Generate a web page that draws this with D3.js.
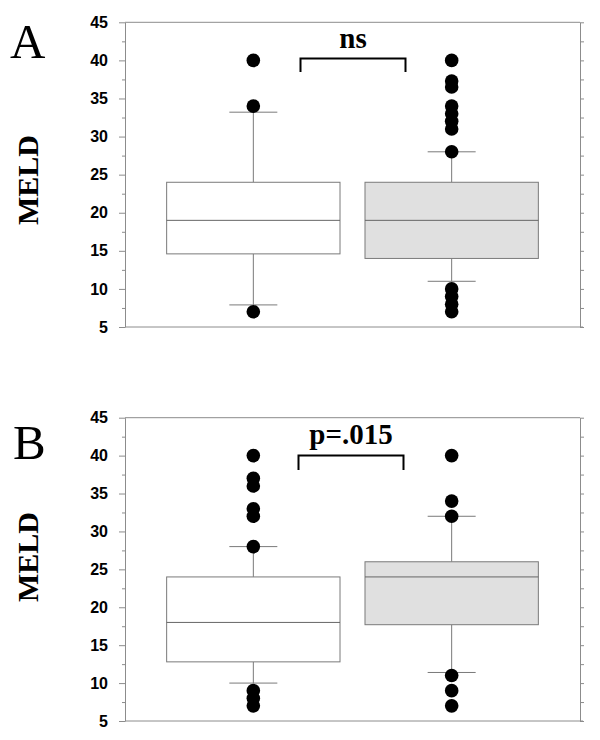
<!DOCTYPE html>
<html>
<head>
<meta charset="utf-8">
<script src="https://cdn.jsdelivr.net/npm/d3@7"></script>
<style>
  html, body { margin: 0; padding: 0; background: #fff; }
  svg { display: block; }
</style>
</head>
<body>
<div id="chart"></div>
<script>
// ---------- data ----------
const groups = ["Group 1", "Group 2"];
const yTicks = [5, 10, 15, 20, 25, 30, 35, 40, 45];
const panelLabels = ["A", "B"];
const yLabel = "MELD";
const sigLabels = ["ns", "p=.015"];

// Panel A
const aQ1 = [14.6, 14];
const aMedian = [19, 19];
const aQ3 = [24, 24];
const aWhiskerLow = [7.9, 11];
const aWhiskerHigh = [33.2, 28];
const aOutliers = [
  [40, 34, 7],
  [40, 37.3, 36.5, 34, 33, 32, 31, 28, 10, 9, 8, 7]
];

// Panel B
const bQ1 = [12.8, 17.7];
const bMedian = [18, 24];
const bQ3 = [24, 26];
const bWhiskerLow = [10, 11.4];
const bWhiskerHigh = [28, 32];
const bOutliers = [
  [40, 37, 36, 33, 32, 28, 9, 8, 7],
  [40, 34, 32, 11, 9, 7]
];

const boxFills = ["#ffffff", "#e0e0e0"];

// ---------- layout ----------
const W = 600, H = 740;
const svg = d3.select("#chart").append("svg").attr("width", W).attr("height", H);

const x = d3.scaleBand().domain(groups).range([125, 580])
  .paddingInner(0.126).paddingOuter(0.21);

const panels = [
  { top: 22.3, bottom: 327, label: panelLabels[0], sig: sigLabels[0],
    q1: aQ1, med: aMedian, q3: aQ3, lo: aWhiskerLow, hi: aWhiskerHigh, out: aOutliers,
    letterX: 10, letterY: 58, meldY: 180, bracket: { x0: 300.5, x1: 405.5, y: 58.5, yb: 72, ty: 48 } },
  { top: 417.7, bottom: 721, label: panelLabels[1], sig: sigLabels[1],
    q1: bQ1, med: bMedian, q3: bQ3, lo: bWhiskerLow, hi: bWhiskerHigh, out: bOutliers,
    letterX: 13, letterY: 459, meldY: 557, bracket: { x0: 298.5, x1: 403.5, y: 455.5, yb: 470, ty: 444 } }
];

const axisGray = "#8c8c8c";
const boxGray = "#7a7a7a";

panels.forEach((p) => {
  const y = d3.scaleLinear().domain([5, 45]).range([p.bottom, p.top]);
  const g = svg.append("g");

  // minor ticks (left)
  const minor = d3.range(7.5, 45, 5);
  const leftMinor = g.append("g").attr("transform", "translate(125,0)")
    .call(d3.axisLeft(y).tickValues(minor).tickSize(3).tickFormat(""));
  leftMinor.select(".domain").remove();
  leftMinor.selectAll("line").attr("stroke", axisGray);

  // left axis
  const left = g.append("g").attr("transform", "translate(125,0)")
    .call(d3.axisLeft(y).tickValues(yTicks).tickSize(6).tickPadding(11).tickSizeOuter(0));
  left.select(".domain").attr("stroke", axisGray);
  left.selectAll("line").attr("stroke", axisGray);
  left.selectAll("text")
    .attr("font-family", "'Liberation Sans', Arial, sans-serif")
    .attr("font-weight", "bold")
    .attr("font-size", 16)
    .attr("fill", "#000");

  // right axis
  const right = g.append("g").attr("transform", "translate(580,0)")
    .call(d3.axisRight(y).tickValues(d3.range(5, 45.1, 2.5)).tickSize(4).tickFormat("").tickSizeOuter(0));
  right.select(".domain").attr("stroke", axisGray);
  right.selectAll("line").attr("stroke", axisGray);

  // top and bottom lines
  g.append("line").attr("x1", 125).attr("x2", 580).attr("y1", y(45)).attr("y2", y(45))
    .attr("stroke", axisGray);
  g.append("line").attr("x1", 125).attr("x2", 583).attr("y1", y(5)).attr("y2", y(5))
    .attr("stroke", axisGray);

  // boxes
  groups.forEach((grp, i) => {
    const cx = x(grp) + x.bandwidth() / 2;
    const cap = 24;
    g.append("line").attr("x1", cx).attr("x2", cx).attr("y1", y(p.q3[i])).attr("y2", y(p.hi[i]))
      .attr("stroke", boxGray);
    g.append("line").attr("x1", cx).attr("x2", cx).attr("y1", y(p.q1[i])).attr("y2", y(p.lo[i]))
      .attr("stroke", boxGray);
    g.append("line").attr("x1", cx - cap).attr("x2", cx + cap).attr("y1", y(p.hi[i])).attr("y2", y(p.hi[i]))
      .attr("stroke", boxGray);
    g.append("line").attr("x1", cx - cap).attr("x2", cx + cap).attr("y1", y(p.lo[i])).attr("y2", y(p.lo[i]))
      .attr("stroke", boxGray);
    g.append("rect").attr("x", x(grp)).attr("width", x.bandwidth())
      .attr("y", y(p.q3[i])).attr("height", y(p.q1[i]) - y(p.q3[i]))
      .attr("fill", boxFills[i]).attr("stroke", boxGray);
    g.append("line").attr("x1", x(grp)).attr("x2", x(grp) + x.bandwidth())
      .attr("y1", y(p.med[i])).attr("y2", y(p.med[i])).attr("stroke", "#666");
    g.selectAll(null).data(p.out[i]).enter().append("circle")
      .attr("cx", cx).attr("cy", d => y(d)).attr("r", 6.8).attr("fill", "#000");
  });

  // significance bracket
  const b = p.bracket;
  g.append("path")
    .attr("d", `M${b.x0},${b.yb}V${b.y}H${b.x1}V${b.yb}`)
    .attr("fill", "none").attr("stroke", "#000").attr("stroke-width", 2);
  g.append("text").attr("x", (b.x0 + b.x1) / 2).attr("y", b.ty)
    .attr("text-anchor", "middle")
    .attr("font-family", "'Liberation Serif', 'Times New Roman', serif")
    .attr("font-weight", "bold").attr("font-size", 29)
    .text(p.sig);

  // panel letter
  g.append("text").attr("x", p.letterX).attr("y", p.letterY)
    .attr("font-family", "'Liberation Serif', 'Times New Roman', serif")
    .attr("font-size", 49)
    .text(p.label);

  // y label
  g.append("text").attr("transform", `translate(38,${p.meldY}) rotate(-90)`)
    .attr("text-anchor", "middle")
    .attr("font-family", "'Liberation Serif', 'Times New Roman', serif")
    .attr("font-weight", "bold").attr("font-size", 30)
    .text(yLabel);
});
</script>
</body>
</html>
